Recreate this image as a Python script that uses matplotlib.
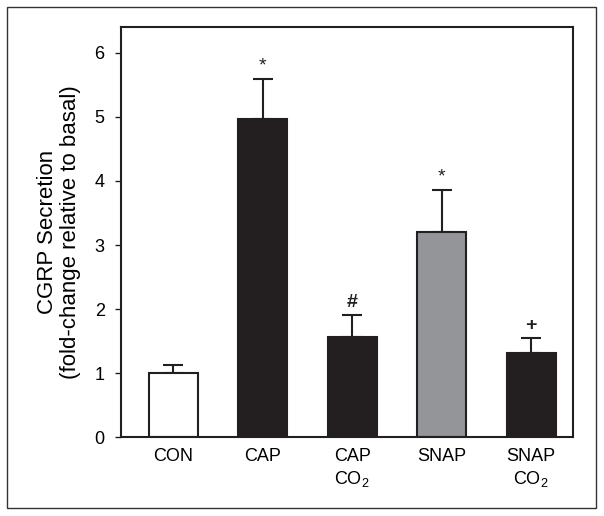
import numpy as np
import matplotlib
matplotlib.use("Agg")
import matplotlib.pyplot as plt
from matplotlib.patches import Rectangle

plt.rcParams['font.family'] = ['Liberation Sans', 'DejaVu Sans']
plt.rcParams['mathtext.fontset'] = 'custom'
plt.rcParams['mathtext.rm'] = 'Liberation Sans'
plt.rcParams['mathtext.it'] = 'Liberation Sans'

# data
groups = ["CON", "CAP", "CAP\nCO$_2$", "SNAP", "SNAP\nCO$_2$"]
means = [1.00, 4.97, 1.57, 3.20, 1.31]
err_top = [1.12, 5.60, 1.91, 3.86, 1.55]   # top of the error bar
marks = ["", "*", "#", "*", "+"]
colors = ["white", "#231f20", "#231f20", "#939598", "#231f20"]

errs = np.array(err_top) - np.array(means)
x = np.arange(len(groups))

fig = plt.figure(figsize=(6.04, 5.16), dpi=100)
ax = fig.add_axes([0.201, 0.153, 0.748, 0.794])

ax.bar(x, means, width=0.55, color=colors, edgecolor="#231f20", linewidth=1.5, zorder=2)
ax.errorbar(x, means, yerr=[np.zeros(len(x)), errs], fmt="none", ecolor="#231f20",
            elinewidth=1.5, capsize=7.5, capthick=1.5, zorder=1)

for xi, top, m in zip(x, err_top, marks):
    if m:
        ax.annotate(m, (xi, top), xytext=(0, 3), textcoords="offset points",
                    ha="center", va="bottom", fontsize=14, color="#231f20",
                    fontweight="bold" if m != "*" else "normal")

ax.set_xlim(-0.58, 4.47)
ax.set_ylim(0, 6.4)
ax.set_yticks(range(0, 7))
ax.set_xticks(x)
ax.set_xticklabels(groups, fontsize=13, linespacing=1.25)
ax.tick_params(axis="x", length=0, pad=8)
ax.tick_params(axis="y", length=4, width=1, labelsize=13, pad=8, color="#231f20")
for s in ax.spines.values():
    s.set_linewidth(1.5)
    s.set_color("#231f20")

ax.set_ylabel("CGRP Secretion\n(fold-change relative to basal)", fontsize=16,
              labelpad=10, linespacing=1.1)

# thin outer frame around the whole figure
fig.patches.append(Rectangle((0.012, 0.016), 0.974, 0.970, transform=fig.transFigure,
                             fill=False, edgecolor="#333333", linewidth=1.0))

fig.savefig("out.png", dpi=100)
